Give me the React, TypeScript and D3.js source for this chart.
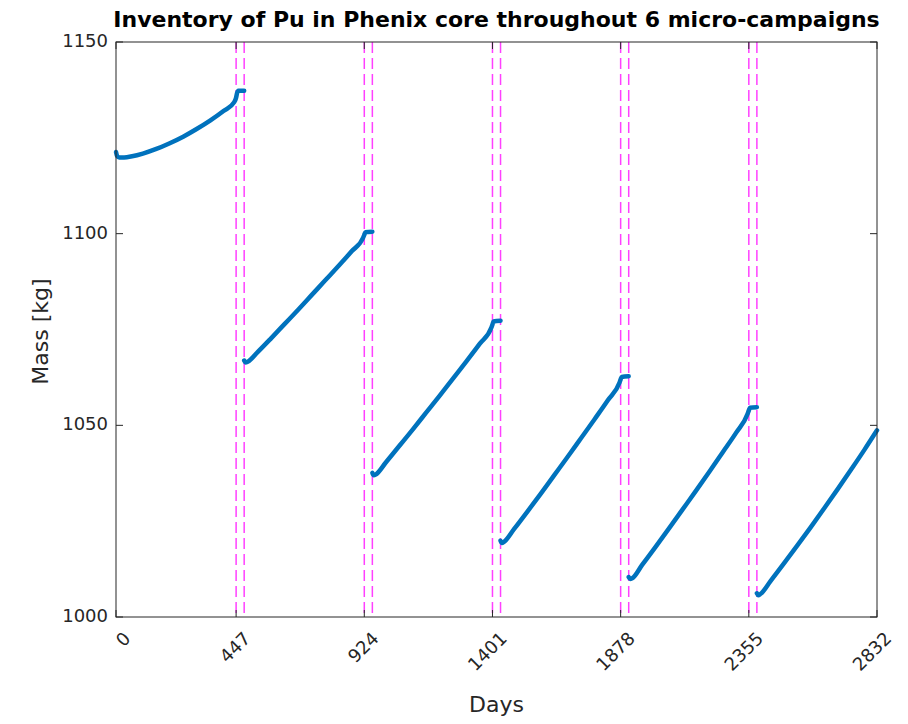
import { useEffect, useRef } from "react";
import * as d3 from "d3";

// Pu mass [kg] per micro-campaign
const seg1Days = [0, 4, 12, 30, 60, 100, 150, 200, 250, 300, 350, 400, 440, 447, 451, 455, 477];
const seg1Mass = [1121.3, 1120.3, 1119.9, 1119.9, 1120.2, 1120.9, 1122.1, 1123.6, 1125.3, 1127.3, 1129.5, 1132.0, 1134.3, 1135.5, 1136.8, 1137.3, 1137.3];

const seg2Days = [477, 482, 490, 527, 577, 627, 677, 727, 777, 827, 877, 920, 924, 928, 954];
const seg2Mass = [1066.9, 1066.4, 1066.6, 1069.1, 1072.7, 1076.4, 1080.1, 1083.9, 1087.7, 1091.5, 1095.4, 1099.0, 1099.7, 1100.4, 1100.5];

const seg3Days = [954, 959, 967, 1004, 1054, 1104, 1154, 1204, 1254, 1304, 1354, 1397, 1401, 1405, 1431];
const seg3Mass = [1037.6, 1037.0, 1037.2, 1040.3, 1044.6, 1048.9, 1053.3, 1057.7, 1062.2, 1066.7, 1071.3, 1075.5, 1076.3, 1077.1, 1077.3];

const seg4Days = [1431, 1436, 1444, 1481, 1531, 1581, 1631, 1681, 1731, 1781, 1831, 1874, 1878, 1882, 1908];
const seg4Mass = [1019.9, 1019.3, 1019.6, 1022.9, 1027.5, 1032.2, 1037.0, 1041.8, 1046.7, 1051.6, 1056.6, 1061.2, 1062.0, 1062.6, 1062.8];

const seg5Days = [1908, 1913, 1921, 1958, 2008, 2058, 2108, 2158, 2208, 2258, 2308, 2351, 2355, 2359, 2385];
const seg5Mass = [1010.4, 1009.9, 1010.1, 1013.6, 1018.3, 1023.1, 1028.0, 1032.9, 1037.9, 1043.0, 1048.1, 1053.1, 1053.9, 1054.6, 1054.7];

const seg6Days = [2385, 2390, 2398, 2435, 2485, 2535, 2585, 2635, 2685, 2735, 2785, 2832];
const seg6Mass = [1006.2, 1005.7, 1006.0, 1009.3, 1013.9, 1018.6, 1023.4, 1028.3, 1033.3, 1038.4, 1043.6, 1048.7];

const segments = [
  [seg1Days, seg1Mass],
  [seg2Days, seg2Mass],
  [seg3Days, seg3Mass],
  [seg4Days, seg4Mass],
  [seg5Days, seg5Mass],
  [seg6Days, seg6Mass],
];

// shutdown periods between campaigns (dashed markers)
const shutdownDays = [447, 477, 924, 954, 1401, 1431, 1878, 1908, 2355, 2385];

const xTicks = [0, 447, 924, 1401, 1878, 2355, 2832];
const yTicks = [1000, 1050, 1100, 1150];

export default function App() {
  const ref = useRef<SVGSVGElement>(null);

  useEffect(() => {
    const width = 908;
    const height = 724;
    const MARGIN = { top: 42, right: 31, bottom: 107, left: 116 };
    const boundsWidth = width - MARGIN.left - MARGIN.right;
    const boundsHeight = height - MARGIN.top - MARGIN.bottom;
    const axisColor = "#262626";
    const font = "'DejaVu Sans', sans-serif";

    const root = d3.select(ref.current);
    root.selectAll("*").remove();

    const x = d3.scaleLinear().domain([0, 2832]).range([0, boundsWidth]);
    const y = d3.scaleLinear().domain([1000, 1150]).range([boundsHeight, 0]);

    const svg = root.append("g").attr("transform", `translate(${MARGIN.left},${MARGIN.top})`);

    // dashed shutdown lines
    svg.selectAll(".vline")
      .data(shutdownDays)
      .enter()
      .append("line")
      .attr("x1", (d) => x(d))
      .attr("x2", (d) => x(d))
      .attr("y1", 0)
      .attr("y2", boundsHeight)
      .attr("stroke", "#ff00ff")
      .attr("stroke-opacity", 0.75)
      .attr("stroke-width", 1.5)
      .attr("stroke-dasharray", "11,5");

    const line = d3.line<[number, number]>()
      .x((d) => x(d[0]))
      .y((d) => y(d[1]))
      .curve(d3.curveMonotoneX);

    segments.forEach(([days, mass]) => {
      const pts = days.map((d, i) => [d, mass[i]] as [number, number]);
      svg.append("path")
        .attr("d", line(pts))
        .attr("fill", "none")
        .attr("stroke", "#0072bd")
        .attr("stroke-width", 4.5)
        .attr("stroke-linecap", "round")
        .attr("stroke-linejoin", "round");
    });

    // box
    svg.append("rect")
      .attr("width", boundsWidth)
      .attr("height", boundsHeight)
      .attr("fill", "none")
      .attr("stroke", axisColor)
      .attr("stroke-width", 1);

    const tickLen = 7;
    xTicks.forEach((t) => {
      svg.append("line").attr("x1", x(t)).attr("x2", x(t)).attr("y1", boundsHeight).attr("y2", boundsHeight - tickLen).attr("stroke", axisColor);
      svg.append("line").attr("x1", x(t)).attr("x2", x(t)).attr("y1", 0).attr("y2", tickLen).attr("stroke", axisColor);
      const ax = x(t) + 12;
      const ay = boundsHeight + 19;
      svg.append("text")
        .text(t)
        .attr("x", ax)
        .attr("y", ay)
        .attr("transform", `rotate(-45, ${ax}, ${ay})`)
        .attr("text-anchor", "end")
        .attr("dominant-baseline", "middle")
        .attr("font-family", font)
        .attr("font-size", 18)
        .attr("fill", axisColor);
    });

    yTicks.forEach((t) => {
      svg.append("line").attr("x1", 0).attr("x2", tickLen).attr("y1", y(t)).attr("y2", y(t)).attr("stroke", axisColor);
      svg.append("line").attr("x1", boundsWidth).attr("x2", boundsWidth - tickLen).attr("y1", y(t)).attr("y2", y(t)).attr("stroke", axisColor);
      svg.append("text")
        .text(t)
        .attr("x", -8)
        .attr("y", y(t))
        .attr("text-anchor", "end")
        .attr("dominant-baseline", "middle")
        .attr("font-family", font)
        .attr("font-size", 18)
        .attr("fill", axisColor);
    });

    // Title
    svg.append("text")
      .text("Inventory of Pu in Phenix core throughout 6 micro-campaigns")
      .attr("x", boundsWidth / 2)
      .attr("y", -15)
      .attr("text-anchor", "middle")
      .attr("font-family", font)
      .attr("font-size", 22)
      .attr("font-weight", "bold")
      .attr("fill", "black");

    // Axis labels
    svg.append("text")
      .text("Days")
      .attr("x", boundsWidth / 2)
      .attr("y", boundsHeight + 95)
      .attr("text-anchor", "middle")
      .attr("font-family", font)
      .attr("font-size", 22)
      .attr("fill", axisColor);

    svg.append("text")
      .text("Mass [kg]")
      .attr("transform", `translate(-68, ${boundsHeight / 2 + 2}) rotate(-90)`)
      .attr("text-anchor", "middle")
      .attr("font-family", font)
      .attr("font-size", 22)
      .attr("fill", axisColor);
  }, []);

  return (
    <svg
      ref={ref}
      width={908}
      height={724}
      style={{ position: "absolute", left: 0, top: 0, background: "white" }}
    />
  );
}
